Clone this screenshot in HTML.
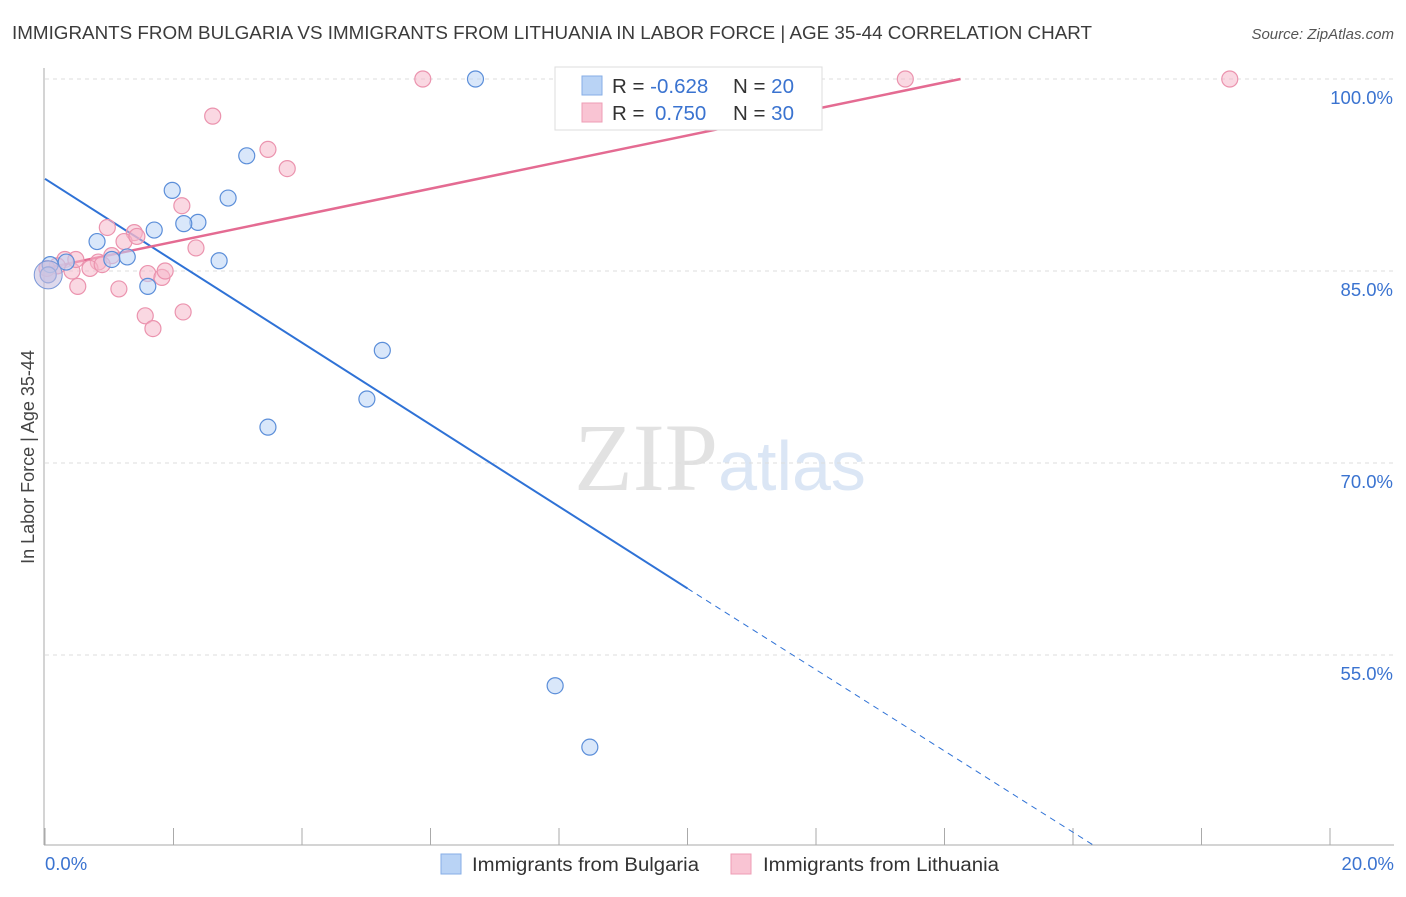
<!DOCTYPE html>
<html><head><meta charset="utf-8"><style>
body{margin:0;background:#fff;font-family:"Liberation Sans",sans-serif}
</style></head><body>
<svg id="chart" width="1406" height="892" xmlns="http://www.w3.org/2000/svg" font-family="Liberation Sans, sans-serif">
<text x="12" y="39" font-size="18.5" fill="#3b3b3b" textLength="1080" lengthAdjust="spacingAndGlyphs">IMMIGRANTS FROM BULGARIA VS IMMIGRANTS FROM LITHUANIA IN LABOR FORCE | AGE 35-44 CORRELATION CHART</text>
<text x="1394" y="39" font-size="15" fill="#555" font-style="italic" text-anchor="end">Source: ZipAtlas.com</text>
<text x="720" y="490" font-size="96" text-anchor="middle" fill="#e2e2e2" font-family="Liberation Serif, serif">ZIP<tspan fill="#dbe6f5" font-family="Liberation Sans, sans-serif" font-size="70">atlas</tspan></text>
<text transform="translate(34,457) rotate(-90)" font-size="18" fill="#444" text-anchor="middle">In Labor Force | Age 35-44</text>
<g id="grid"></g><g id="axes"></g><g id="lines"></g><g id="pts"></g>
<g>
<rect x="555" y="67" width="267" height="63" fill="#fff" stroke="#ddd"/>
<rect x="582" y="76" width="20" height="19" fill="#b9d3f5" stroke="#86aee6"/>
<rect x="582" y="103" width="20" height="19" fill="#f9c4d3" stroke="#ee9db5"/>
<text x="612" y="93" font-size="20.5" fill="#333">R = <tspan fill="#3a73d0">-0.628</tspan><tspan x="733">N = </tspan><tspan fill="#3a73d0">20</tspan></text>
<text x="612" y="120" font-size="20.5" fill="#333">R = <tspan x="655" fill="#3a73d0">0.750</tspan><tspan x="733">N = </tspan><tspan fill="#3a73d0">30</tspan></text>
</g>
<g>
<rect x="441" y="854" width="20" height="20" fill="#b9d3f5" stroke="#86aee6"/>
<text x="472" y="871" font-size="19" fill="#333" textLength="227" lengthAdjust="spacingAndGlyphs">Immigrants from Bulgaria</text>
<rect x="731" y="854" width="20" height="20" fill="#f9c4d3" stroke="#ee9db5"/>
<text x="763" y="871" font-size="19" fill="#333" textLength="236" lengthAdjust="spacingAndGlyphs">Immigrants from Lithuania</text>
</g>
<text x="45" y="870" font-size="18.5" fill="#3a73d0">0.0%</text>
<text x="1394" y="870" font-size="18.5" fill="#3a73d0" text-anchor="end">20.0%</text>
</svg>
<script>
const yTicks=[100,85,70,55];
const xTicks=[0,2,4,6,8,10,12,14,16,18,20];
const bulgariaX=[6.70,3.14,1.98,2.85,2.38,2.16,1.70,0.81,1.28,2.71,1.04,0.33,0.08,0.05,1.60,5.25,5.01,3.47,7.94,8.48];
const bulgariaY=[100,94.0,91.3,90.7,88.8,88.7,88.2,87.3,86.1,85.8,85.9,85.7,85.5,84.7,83.8,78.8,75.0,72.8,52.6,47.8];
const lithuaniaX=[5.88,13.39,18.44,2.61,3.47,3.77,2.13,0.97,1.39,1.23,2.35,1.04,0.31,0.83,0.19,0.70,0.89,1.60,1.82,1.87,0.42,0.51,1.15,1.56,2.15,1.68,1.43,0.03,0.05,0.48];
const lithuaniaY=[100,100,100,97.1,94.5,93.0,90.1,88.4,88.0,87.3,86.8,86.2,85.9,85.7,85.4,85.2,85.5,84.8,84.5,85.0,85.0,83.8,83.6,81.5,81.8,80.5,87.7,85.2,84.7,85.9];
const bulgariaBig=[0.05,84.7];
const trendB=[[0,92.2],[10,60.2],[16.3,40.2]];
const trendP=[[0,85.2],[14.25,100]];
const NS="http://www.w3.org/2000/svg";
const X=v=>45+v*64.25, Y=v=>79+(100-v)*12.8;
function mk(p,t,a){const e=document.createElementNS(NS,t);for(const k in a)e.setAttribute(k,a[k]);document.getElementById(p).appendChild(e);return e;}
yTicks.forEach(t=>{
 const l=mk('grid','line',{x1:45,x2:1394,y1:Y(t),y2:Y(t),stroke:'#ddd','stroke-dasharray':'4,4'});
 
 
 const tx=mk('grid','text',{x:1393,y:Y(t)+25,'font-size':18.5,fill:'#3a73d0','text-anchor':'end'});
 tx.textContent=t.toFixed(1)+'%';
 
 
});
const ax=mk('axes','line',{x1:44,x2:44,y1:68,y2:845,stroke:'#aaa'});


const bx=mk('axes','line',{x1:44,x2:1394,y1:845,y2:845,stroke:'#aaa'});


xTicks.forEach(t=>{
 const l=mk('axes','line',{x1:X(t),x2:X(t),y1:828,y2:845,stroke:'#aaa'});
 
 
});
function pt(arrX,arrY,fill,stroke,name){
 arrX.forEach((x,i)=>{
  const c=mk('pts','circle',{cx:X(x),cy:Y(arrY[i]),r:8,fill:fill,'fill-opacity':0.55,stroke:stroke,'stroke-width':1.2});
  
  
 });
}
pt(lithuaniaX,lithuaniaY,'#f6b8ca','#eb93ae','lithuania-point');
pt(bulgariaX,bulgariaY,'#b9d3f5','#5b8ed9','bulgaria-point');
const big=mk('pts','circle',{cx:X(bulgariaBig[0]),cy:Y(bulgariaBig[1]),r:14,fill:'#c8bfe0','fill-opacity':0.6,stroke:'#7a98d8'});


const lb=mk('lines','line',{x1:X(trendB[0][0]),y1:Y(trendB[0][1]),x2:X(trendB[1][0]),y2:Y(trendB[1][1]),stroke:'#2f72d6','stroke-width':2});


const lbd=mk('lines','line',{x1:X(trendB[1][0]),y1:Y(trendB[1][1]),x2:X(trendB[2][0]),y2:Y(trendB[2][1]),stroke:'#2f72d6','stroke-width':1,'stroke-dasharray':'6,5'});


const lp=mk('lines','line',{x1:X(trendP[0][0]),y1:Y(trendP[0][1]),x2:X(trendP[1][0]),y2:Y(trendP[1][1]),stroke:'#e46b92','stroke-width':2.5});


</script>
</body></html>
